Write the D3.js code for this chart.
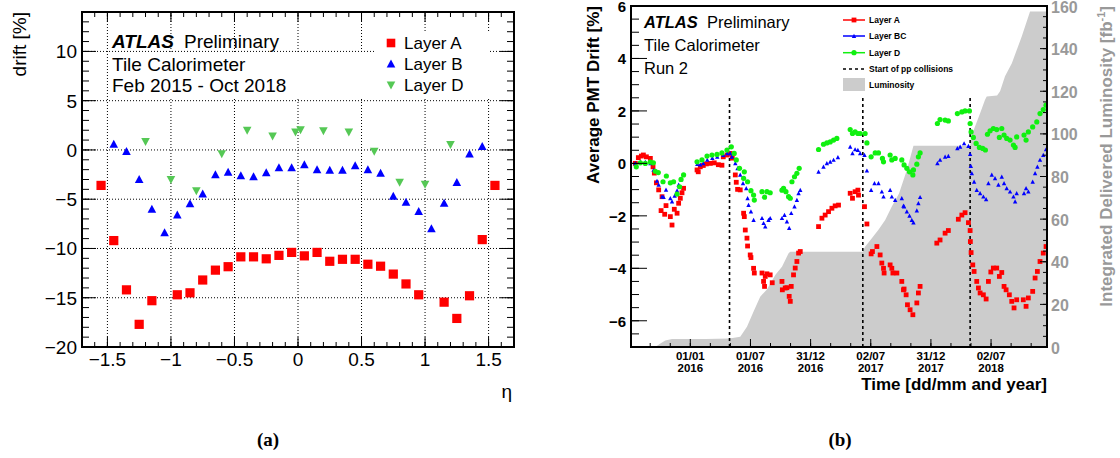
<!doctype html>
<html>
<head>
<meta charset="utf-8">
<title>Tile Calorimeter PMT drift</title>
<script src="https://d3js.org/d3.v7.min.js"></script>
<style>
body{margin:0;background:#fff;}
text{font-family:"Liberation Sans",Arial,Helvetica,sans-serif;}
text.cap{font-family:"Liberation Serif","Times New Roman",serif;}
</style>
</head>
<body>
<script>
// ---------------- (a) drift vs eta ----------------
var driftA = [[-1.55,-3.6],[-1.45,-9.2],[-1.35,-14.2],[-1.25,-17.7],[-1.15,-15.3],[-0.95,-14.7],[-0.85,-14.5],
  [-0.75,-13.2],[-0.65,-12.2],[-0.55,-11.85],[-0.45,-10.85],[-0.35,-10.85],[-0.25,-11.05],[-0.15,-10.7],
  [-0.05,-10.4],[0.05,-10.75],[0.15,-10.4],[0.25,-11.3],[0.35,-11.1],[0.45,-11.1],[0.55,-11.6],[0.65,-11.8],
  [0.75,-12.6],[0.85,-13.6],[0.95,-14.7],[1.15,-15.45],[1.25,-17.1],[1.35,-14.8],[1.45,-9.1],[1.55,-3.6]];
var driftB = [[-1.45,0.6],[-1.35,-0.15],[-1.25,-3.0],[-1.15,-6.0],[-1.05,-8.4],[-0.95,-6.6],[-0.85,-5.45],
  [-0.75,-4.45],[-0.65,-2.5],[-0.55,-2.25],[-0.45,-2.6],[-0.35,-2.7],[-0.25,-2.3],[-0.15,-1.8],[-0.05,-1.8],
  [0.05,-1.5],[0.15,-2.0],[0.25,-2.05],[0.35,-2.05],[0.45,-1.6],[0.55,-2.0],[0.65,-2.35],[0.75,-4.7],
  [0.85,-5.3],[0.95,-6.25],[1.05,-8.0],[1.15,-5.4],[1.25,-3.3],[1.35,-0.4],[1.45,0.35]];
var driftD = [[-1.2,0.85],[-1.0,-3.0],[-0.8,-4.15],[-0.6,-0.4],[-0.4,2.0],[-0.2,1.4],[-0.02,1.8],[0.02,2.05],
  [0.2,1.95],[0.4,1.8],[0.6,-0.15],[0.8,-3.3],[1.0,-3.5],[1.2,0.55]];
var etaTicks = [-1.5,-1,-0.5,0,0.5,1,1.5];
var driftTicks = [-20,-15,-10,-5,0,5,10];
var layersA = ["Layer A","Layer B","Layer D"];

// ---------------- (b) drift vs time ----------------
var pmtA = [[2015.543,0.0],[2015.568,0.22],[2015.593,0.28],[2015.610,0.32],[2015.635,0.25],[2015.668,0.19],
  [2015.690,-0.13],[2015.701,-0.37],[2015.718,-0.74],[2015.737,-1.01],[2015.757,-1.80],[2015.765,-1.27],
  [2015.787,-1.94],[2015.798,-1.61],[2015.834,-2.03],[2015.848,-2.35],[2015.867,-1.75],[2015.890,-1.90],
  [2015.903,-1.52],[2015.917,-1.33],[2015.931,-1.12],[2015.944,-0.95],
  [2016.056,-0.25],[2016.066,-0.32],[2016.083,-0.13],[2016.108,-0.08],[2016.133,-0.02],[2016.166,0.0],
  [2016.199,0.02],[2016.233,-0.05],[2016.263,-0.07],[2016.274,0.25],[2016.307,0.32],[2016.332,0.38],
  [2016.349,0.2],[2016.374,-0.44],[2016.382,-0.72],[2016.393,-0.99],[2016.415,-1.01],[2016.443,-1.90],
  [2016.449,-2.03],[2016.457,-2.54],[2016.471,-2.85],[2016.476,-3.15],[2016.498,-3.49],[2016.504,-3.59],
  [2016.526,-4.0],[2016.532,-4.18],[2016.596,-4.18],[2016.609,-4.50],[2016.617,-4.69],[2016.623,-4.31],
  [2016.637,-4.21],[2016.664,-4.25],[2016.681,-4.55],[2016.762,-4.50],[2016.765,-4.82],[2016.789,-4.75],
  [2016.803,-4.74],[2016.822,-5.07],[2016.831,-5.26],[2016.839,-4.69],[2016.858,-4.25],[2016.872,-3.99],
  [2016.886,-3.74],[2016.900,-3.42],[2016.914,-3.36],
  [2017.066,-2.41],[2017.094,-2.09],[2017.121,-1.97],[2017.149,-1.84],[2017.177,-1.71],[2017.204,-1.62],
  [2017.232,-1.59],[2017.329,-1.14],[2017.348,-1.33],[2017.370,-1.08],[2017.393,-1.02],[2017.398,-1.21],
  [2017.448,-1.65],[2017.468,-2.31],[2017.503,-3.45],[2017.514,-3.36],[2017.551,-3.17],[2017.578,-3.49],
  [2017.592,-3.80],[2017.606,-4.0],[2017.611,-4.18],[2017.661,-3.87],[2017.675,-4.0],[2017.684,-4.18],
  [2017.717,-4.18],[2017.758,-4.50],[2017.772,-4.82],[2017.777,-4.79],[2017.794,-5.01],[2017.805,-5.39],
  [2017.827,-5.58],[2017.850,-5.77],[2017.883,-5.32],[2017.896,-4.94],[2017.910,-4.69],
  [2018.049,-3.04],[2018.076,-2.92],[2018.118,-2.66],[2018.145,-2.56],[2018.228,-2.13],[2018.257,-1.97],
  [2018.284,-1.88],[2018.312,-2.26],[2018.326,-2.56],[2018.328,-2.98],[2018.334,-3.40],[2018.348,-3.87],
  [2018.359,-4.12],[2018.381,-4.50],[2018.395,-4.75],[2018.409,-4.94],[2018.436,-5.01],[2018.459,-5.17],
  [2018.478,-4.50],[2018.498,-4.14],[2018.519,-3.99],[2018.547,-3.99],[2018.569,-4.31],[2018.589,-4.16],
  [2018.608,-4.69],[2018.625,-4.82],[2018.652,-5.01],[2018.672,-5.26],[2018.691,-5.51],[2018.713,-5.20],
  [2018.768,-5.20],[2018.791,-5.45],[2018.810,-5.13],[2018.846,-4.88],[2018.866,-4.37],[2018.885,-4.12],
  [2018.907,-3.74],[2018.934,-3.42],[2018.957,-3.17]];
var pmtBC = [[2015.543,0.0],[2015.585,0.05],[2015.626,0.05],[2015.668,0.0],[2015.695,-0.25],[2015.723,-0.67],
  [2015.737,-0.82],[2015.765,-1.27],[2015.778,-1.29],[2015.798,-1.01],[2015.834,-1.33],[2015.848,-1.46],
  [2015.870,-1.24],[2015.890,-1.04],[2015.903,-0.82],[2015.923,-0.61],
  [2016.058,-0.03],[2016.083,-0.05],[2016.108,0.0],[2016.141,0.13],[2016.183,0.2],[2016.224,0.25],
  [2016.274,0.32],[2016.307,0.38],[2016.332,0.38],[2016.346,0.25],[2016.374,0.0],[2016.393,-0.19],
  [2016.415,-0.44],[2016.438,-0.76],[2016.465,-0.95],[2016.476,-1.33],[2016.484,-1.59],[2016.504,-1.84],
  [2016.526,-2.16],[2016.596,-2.09],[2016.609,-2.28],[2016.623,-2.41],[2016.650,-2.16],[2016.664,-2.09],
  [2016.762,-2.09],[2016.783,-1.97],[2016.803,-2.22],[2016.822,-2.47],[2016.839,-1.90],[2016.866,-1.65],
  [2016.886,-1.40],[2016.900,-1.14],[2016.914,-1.02],
  [2017.066,-0.32],[2017.107,-0.13],[2017.135,0.0],[2017.163,0.06],[2017.191,0.13],[2017.227,0.23],
  [2017.329,0.63],[2017.348,0.38],[2017.370,0.53],[2017.393,0.51],[2017.412,0.38],[2017.448,0.32],
  [2017.468,-0.28],[2017.503,-1.02],[2017.531,-0.76],[2017.564,-0.76],[2017.592,-1.08],[2017.606,-1.27],
  [2017.661,-1.02],[2017.675,-1.27],[2017.703,-1.40],[2017.758,-1.33],[2017.772,-1.62],[2017.777,-1.65],
  [2017.800,-1.84],[2017.822,-2.0],[2017.841,-2.16],[2017.855,-2.26],[2017.883,-1.80],[2017.896,-1.52],
  [2017.910,-1.29],
  [2018.054,0.0],[2018.076,0.13],[2018.118,0.25],[2018.145,0.28],[2018.220,0.57],[2018.243,0.63],
  [2018.276,0.76],[2018.312,0.66],[2018.326,0.35],[2018.332,-0.10],[2018.340,-0.38],[2018.359,-0.70],
  [2018.381,-1.02],[2018.409,-1.14],[2018.436,-1.27],[2018.459,-1.37],[2018.478,-0.76],[2018.506,-0.44],
  [2018.533,-0.57],[2018.561,-0.82],[2018.589,-0.51],[2018.608,-0.76],[2018.630,-0.95],[2018.658,-1.08],
  [2018.686,-1.27],[2018.700,-1.46],[2018.713,-1.14],[2018.774,-1.14],[2018.791,-0.95],[2018.810,-1.08],
  [2018.846,-0.70],[2018.866,-0.38],[2018.885,-0.13],[2018.907,0.13],[2018.934,0.32],[2018.957,0.53]];
var pmtD = [[2015.551,-0.13],[2015.585,0.02],[2015.626,0.0],[2015.668,0.05],[2015.693,0.02],[2015.709,-0.30],
  [2015.734,-0.35],[2015.773,-0.70],[2015.801,-0.48],[2015.834,-0.74],[2015.861,-0.70],[2015.890,-1.17],
  [2015.911,-0.89],[2015.923,-0.61],[2015.944,-0.44],
  [2016.056,0.06],[2016.097,0.13],[2016.139,0.28],[2016.180,0.32],[2016.222,0.34],[2016.263,0.40],
  [2016.305,0.51],[2016.341,0.63],[2016.365,0.38],[2016.382,0.13],[2016.409,-0.19],[2016.449,-0.32],
  [2016.443,-0.57],[2016.476,-0.70],[2016.504,-1.04],[2016.526,-1.21],[2016.532,-1.40],[2016.596,-1.08],
  [2016.617,-1.29],[2016.637,-1.08],[2016.664,-1.12],[2016.762,-1.02],[2016.775,-0.95],[2016.795,-1.08],
  [2016.817,-1.27],[2016.831,-1.33],[2016.845,-0.70],[2016.866,-0.51],[2016.886,-0.38],[2016.905,-0.19],
  [2017.066,0.53],[2017.107,0.73],[2017.135,0.78],[2017.163,0.82],[2017.191,0.89],[2017.218,0.95],
  [2017.329,1.29],[2017.348,1.14],[2017.370,1.20],[2017.393,1.14],[2017.412,1.14],[2017.453,1.14],
  [2017.468,0.78],[2017.503,0.25],[2017.537,0.40],[2017.564,0.40],[2017.597,0.19],[2017.606,0.06],
  [2017.661,0.32],[2017.675,0.13],[2017.703,0.19],[2017.758,0.13],[2017.777,-0.06],[2017.800,-0.19],
  [2017.822,-0.32],[2017.850,-0.44],[2017.855,-0.25],[2017.883,-0.03],[2017.896,0.25],[2017.910,0.40],
  [2018.054,1.52],[2018.076,1.67],[2018.118,1.65],[2018.145,1.62],[2018.220,1.90],[2018.257,1.96],
  [2018.284,2.00],[2018.320,2.00],[2018.326,1.52],[2018.334,1.20],[2018.353,0.99],[2018.376,0.76],
  [2018.403,0.61],[2018.431,0.57],[2018.453,0.51],[2018.470,1.11],[2018.492,1.24],[2018.519,1.33],
  [2018.547,1.29],[2018.569,0.99],[2018.589,1.33],[2018.608,1.08],[2018.630,0.95],[2018.658,0.89],
  [2018.686,0.70],[2018.700,0.61],[2018.713,1.01],[2018.774,1.08],[2018.791,0.89],[2018.810,1.20],
  [2018.846,1.39],[2018.880,1.58],[2018.907,1.90],[2018.934,2.05],[2018.957,2.22]];
// integrated delivered luminosity [fb-1]
var lumi = [[2015.709,0],[2015.751,1.7],[2015.792,3.0],[2015.848,3.7],[2016.125,3.8],[2016.326,4.0],
  [2016.415,4.8],[2016.471,9.5],[2016.526,16.6],[2016.581,23.6],[2016.637,27],[2016.706,33.8],
  [2016.762,37.7],[2016.817,44],[2016.831,44.7],[2017.434,44.7],[2017.453,47],[2017.509,51],[2017.564,55],
  [2017.620,59.6],[2017.675,65.9],[2017.735,72],[2017.800,83],[2017.855,94.4],[2018.326,94.4],
  [2018.340,99.5],[2018.409,109.7],[2018.450,116],[2018.464,117.5],[2018.550,118],[2018.575,120],
  [2018.616,127],[2018.672,133],[2018.755,145.7],[2018.824,157.4],[2018.965,157.4]];
var ppStart = [2016.326, 2017.434, 2018.326];
var timeTicks = [2016.0, 2016.5, 2017.0, 2017.5, 2018.0, 2018.5];
var timeDay = ["01/01","01/07","31/12","02/07","31/12","02/07"];
var timeYear = ["2016","2016","2016","2017","2017","2018"];
var pmtTicks = [-6,-4,-2,0,2,4,6];
var lumiTicks = [0,20,40,60,80,100,120,140,160];
var layersB = ["Layer A","Layer BC","Layer D","Start of pp collisions","Luminosity"];

var svg = d3.select("body").append("svg").attr("width", 1120).attr("height", 458);

function vTicks(g, scale, vals, x0, len, col) {
  g.selectAll(null).data(vals).enter().append("line")
    .attr("x1", x0).attr("x2", x0 + len)
    .attr("y1", d => scale(d)).attr("y2", d => scale(d))
    .attr("stroke", col || "#000").attr("stroke-width", 1);
}
function hTicks(g, scale, vals, y0, len) {
  g.selectAll(null).data(vals).enter().append("line")
    .attr("y1", y0).attr("y2", y0 + len)
    .attr("x1", d => scale(d)).attr("x2", d => scale(d))
    .attr("stroke", "#000").attr("stroke-width", 1);
}
function triPath(w, h, up) {
  var s = up ? 1 : -1;
  return "M0," + (-s * h * 0.55) + "L" + (w / 2) + "," + (s * h * 0.45) + "L" + (-w / 2) + "," + (s * h * 0.45) + "Z";
}
var fmt = d3.format("");

// ===================== panel (a) =====================
var pa = {l: 82, r: 514, t: 12, b: 347};
var xa = d3.scaleLinear().domain([-1.7, 1.7]).range([pa.l, pa.r]);
var ya = d3.scaleLinear().domain([-20, 14]).range([pa.b, pa.t]);
var ga = svg.append("g");

// dotted grid
ga.selectAll(null).data(etaTicks).enter().append("line")
  .attr("x1", d => xa(d)).attr("x2", d => xa(d)).attr("y1", pa.t).attr("y2", pa.b)
  .attr("stroke", "#000").attr("stroke-dasharray", "1,2");
ga.selectAll(null).data(driftTicks.slice(1)).enter().append("line")
  .attr("y1", d => ya(d)).attr("y2", d => ya(d)).attr("x1", pa.l).attr("x2", pa.r)
  .attr("stroke", "#000").attr("stroke-dasharray", "1,2");

// white boxes behind the texts
ga.append("rect").attr("x", 108).attr("y", 53).attr("width", 258).attr("height", 45).attr("fill", "#fff");
ga.append("rect").attr("x", 376).attr("y", 32).attr("width", 114).attr("height", 66).attr("fill", "#fff");

// ticks
vTicks(ga, ya, d3.range(-20, 14.5, 1), pa.l, 7);
vTicks(ga, ya, driftTicks, pa.l, 14);
vTicks(ga, ya, d3.range(-20, 14.5, 1), pa.r, -7);
vTicks(ga, ya, driftTicks, pa.r, -14);
var etaMinor = d3.range(-17, 18).map(d => d / 10);
hTicks(ga, xa, etaMinor, pa.b, -5);
hTicks(ga, xa, etaTicks, pa.b, -10);
hTicks(ga, xa, etaMinor, pa.t, 5);
hTicks(ga, xa, etaTicks, pa.t, 10);

ga.append("rect").attr("x", pa.l).attr("y", pa.t).attr("width", pa.r - pa.l).attr("height", pa.b - pa.t)
  .attr("fill", "none").attr("stroke", "#000").attr("stroke-width", 2);

// tick labels
ga.selectAll(null).data(driftTicks).enter().append("text")
  .attr("x", pa.l - 5).attr("y", d => ya(d) + 7).attr("text-anchor", "end")
  .attr("font-size", 19).text(d => fmt(d));
ga.selectAll(null).data(etaTicks).enter().append("text")
  .attr("x", d => xa(d)).attr("y", 366).attr("text-anchor", "middle")
  .attr("font-size", 19).text(d => fmt(d));

ga.append("text").attr("transform", "translate(26," + pa.t + ") rotate(-90)")
  .attr("text-anchor", "end").attr("font-size", 19).text("drift [%]");
ga.append("text").attr("x", 512).attr("y", 398).attr("text-anchor", "end")
  .attr("font-size", 19).text("η");

// ATLAS label
var la = ga.append("text").attr("x", 112).attr("y", 48).attr("font-size", 19);
la.append("tspan").attr("font-weight", "bold").attr("font-style", "italic").text("ATLAS");
la.append("tspan").attr("x", 184).text("Preliminary");
ga.append("text").attr("x", 112).attr("y", 71).attr("font-size", 19).text("Tile Calorimeter");
ga.append("text").attr("x", 112).attr("y", 92).attr("font-size", 19).text("Feb 2015 - Oct 2018");

// data points
var redA = "#ff0000", blueA = "#0000ff", greenA = "#55c855";
ga.selectAll(null).data(driftA).enter().append("rect")
  .attr("x", d => xa(d[0]) - 4.6).attr("y", d => ya(d[1]) - 4.6)
  .attr("width", 9.2).attr("height", 9.2).attr("fill", redA);
ga.selectAll(null).data(driftB).enter().append("path")
  .attr("d", triPath(8.6, 8, true))
  .attr("transform", d => "translate(" + xa(d[0]) + "," + ya(d[1]) + ")").attr("fill", blueA);
ga.selectAll(null).data(driftD).enter().append("path")
  .attr("d", triPath(8.6, 8, false))
  .attr("transform", d => "translate(" + xa(d[0]) + "," + ya(d[1]) + ")").attr("fill", greenA);

// legend
var legA = ga.selectAll(null).data(layersA).enter().append("g")
  .attr("transform", (d, i) => "translate(391," + (43 + i * 21) + ")");
legA.append("path").attr("d", (d, i) => i == 0 ? "M-4.3,-4.3h8.6v8.6h-8.6Z" : triPath(8.6, 8, i == 1))
  .attr("fill", (d, i) => [redA, blueA, greenA][i]);
legA.append("text").attr("x", 13).attr("y", 6).attr("font-size", 17).text(d => d);

// ===================== panel (b) =====================
var pb = {l: 631, r: 1047, t: 6, b: 347};
var xb = d3.scaleLinear().domain([2015.507, 2018.965]).range([pb.l, pb.r]);
var yb = d3.scaleLinear().domain([-7, 6]).range([pb.b, pb.t]);
var yl = d3.scaleLinear().domain([0, 160]).range([pb.b, pb.t]);
var gb = svg.append("g");

gb.append("clipPath").attr("id", "clipb").append("rect")
  .attr("x", pb.l).attr("y", pb.t).attr("width", pb.r - pb.l).attr("height", pb.b - pb.t);
var plot = gb.append("g").attr("clip-path", "url(#clipb)");

var lumiGrey = "#cccccc";
plot.append("path").datum(lumi)
  .attr("d", d3.area().x(d => xb(d[0])).y0(pb.b).y1(d => yl(d[1])))
  .attr("fill", lumiGrey);

plot.selectAll(null).data(ppStart).enter().append("line")
  .attr("x1", d => xb(d)).attr("x2", d => xb(d)).attr("y1", pb.b).attr("y2", yb(2.5))
  .attr("stroke", "#000").attr("stroke-width", 1.6).attr("stroke-dasharray", "3,3");

var redB = "#ff0000", blueB = "#0000ff", greenB = "#10f010";
plot.selectAll(null).data(pmtA).enter().append("rect")
  .attr("x", d => xb(d[0]) - 2.4).attr("y", d => yb(d[1]) - 2.4)
  .attr("width", 4.8).attr("height", 4.8).attr("fill", redB);
plot.selectAll(null).data(pmtBC).enter().append("path")
  .attr("d", triPath(4.4, 4.2, true))
  .attr("transform", d => "translate(" + xb(d[0]) + "," + yb(d[1]) + ")").attr("fill", blueB);
plot.selectAll(null).data(pmtD).enter().append("circle")
  .attr("cx", d => xb(d[0])).attr("cy", d => yb(d[1])).attr("r", 2.6).attr("fill", greenB);

// ticks
vTicks(gb, yb, d3.range(-7, 6.1, 0.5), pb.l, 8);
vTicks(gb, yb, pmtTicks, pb.l, 16);
vTicks(gb, yl, d3.range(0, 161, 5), pb.r, -4);
vTicks(gb, yl, lumiTicks, pb.r, -7);
var monthTicks = d3.range(0, 21).map(k => 2015.5 + k / 6);
hTicks(gb, xb, monthTicks.filter(d => d > 2015.51 && d < 2018.96), pb.b, -4);
hTicks(gb, xb, timeTicks, pb.b, -8);

gb.append("rect").attr("x", pb.l).attr("y", pb.t).attr("width", pb.r - pb.l).attr("height", pb.b - pb.t)
  .attr("fill", "none").attr("stroke", "#000").attr("stroke-width", 2);

// labels
gb.selectAll(null).data(pmtTicks).enter().append("text")
  .attr("x", pb.l - 5).attr("y", d => yb(d) + 6).attr("text-anchor", "end")
  .attr("font-size", 15).attr("font-weight", "bold").text(d => fmt(d));
gb.selectAll(null).data(lumiTicks).enter().append("text")
  .attr("x", pb.r + 4).attr("y", d => yl(d) + 6.5).attr("text-anchor", "start")
  .attr("font-size", 16).attr("font-weight", "bold").attr("fill", "#999").text(d => d);
var tl = gb.selectAll(null).data(timeTicks).enter().append("text")
  .attr("text-anchor", "middle").attr("font-size", 11.5).attr("font-weight", "bold");
tl.append("tspan").attr("x", d => xb(d)).attr("y", 360).text((d, i) => timeDay[i]);
tl.append("tspan").attr("x", d => xb(d)).attr("y", 372).text((d, i) => timeYear[i]);

gb.append("text").attr("x", pb.r).attr("y", 390).attr("text-anchor", "end")
  .attr("font-size", 17).attr("font-weight", "bold").text("Time [dd/mm and year]");
gb.append("text").attr("transform", "translate(599," + pb.t + ") rotate(-90)")
  .attr("text-anchor", "end").attr("font-size", 17).attr("font-weight", "bold")
  .text("Average PMT Drift [%]");
var rt = gb.append("text").attr("transform", "translate(1112," + pb.t + ") rotate(-90)")
  .attr("text-anchor", "end").attr("font-size", 17).attr("font-weight", "bold").attr("fill", "#999");
rt.append("tspan").text("Integrated Delivered Luminosity [fb");
rt.append("tspan").attr("font-size", 11).attr("dy", -7).text("-1");
rt.append("tspan").attr("dy", 7).text("]");

var lb = gb.append("text").attr("x", 644).attr("y", 28).attr("font-size", 16.5);
lb.append("tspan").attr("font-weight", "bold").attr("font-style", "italic").text("ATLAS");
lb.append("tspan").attr("x", 707).text("Preliminary");
gb.append("text").attr("x", 644).attr("y", 51).attr("font-size", 16.5).text("Tile Calorimeter");
gb.append("text").attr("x", 644).attr("y", 74).attr("font-size", 16.5).text("Run 2");

// legend
var legB = gb.selectAll(null).data(layersB).enter().append("g")
  .attr("transform", (d, i) => "translate(843," + [20, 36, 52.7, 69, 85][i] + ")");
legB.filter((d, i) => i < 4).append("line").attr("x1", 0).attr("x2", 22)
  .attr("stroke", (d, i) => [redB, blueB, greenB, "#000"][i])
  .attr("stroke-width", 1.5).attr("stroke-dasharray", (d, i) => i == 3 ? "3,3" : null);
legB.filter((d, i) => i == 0).append("rect").attr("x", 8.6).attr("y", -2.4).attr("width", 4.8).attr("height", 4.8).attr("fill", redB);
legB.filter((d, i) => i == 1).append("path").attr("d", triPath(4.4, 4.2, true)).attr("transform", "translate(11,0)").attr("fill", blueB);
legB.filter((d, i) => i == 2).append("circle").attr("cx", 11).attr("r", 2.6).attr("fill", greenB);
legB.filter((d, i) => i == 4).append("rect").attr("x", 0).attr("y", -7).attr("width", 22).attr("height", 13).attr("fill", lumiGrey);
legB.append("text").attr("x", 26).attr("y", 3).attr("font-size", 8.5).attr("font-weight", "bold").text(d => d);

// captions
svg.append("text").attr("class", "cap").attr("x", 268).attr("y", 446).attr("text-anchor", "middle")
  .attr("font-size", 19).attr("font-weight", "bold").text("(a)");
svg.append("text").attr("class", "cap").attr("x", 840).attr("y", 446).attr("text-anchor", "middle")
  .attr("font-size", 19).attr("font-weight", "bold").text("(b)");
</script>
</body>
</html>
